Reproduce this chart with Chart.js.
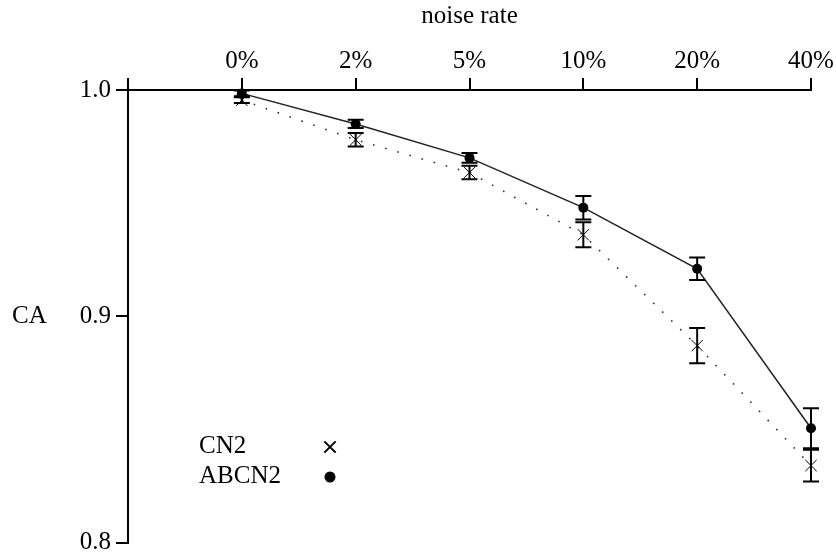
<!DOCTYPE html>
<html lang="en">
<head>
    <meta charset="UTF-8">
    <title>CA vs noise rate</title>
    <script src="https://cdn.jsdelivr.net/npm/chart.js"></script>
    <style>
        body {
            margin: 0;
            padding: 0;
            background: white;
        }

        #wrap {
            width: 836px;
            height: 560px;
        }
    </style>
</head>
<body>

    <div id="wrap"><canvas id="caChart"></canvas></div>

    <script>
        // Values
        const noiseRates = ["0%", "2%", "5%", "10%", "20%", "40%"];
        const cn2Mean = [0.9955, 0.978, 0.9635, 0.936, 0.887, 0.834];
        const cn2Err = [0.0013, 0.003, 0.003, 0.0055, 0.0078, 0.007];
        const abcn2Mean = [0.9985, 0.985, 0.970, 0.948, 0.921, 0.8505];
        const abcn2Err = [0.0013, 0.0018, 0.0022, 0.0052, 0.005, 0.0088];
        const yTicks = [0.8, 0.9, 1.0];

        const serif = "'Liberation Serif', 'DejaVu Serif', serif";
        const fontSize = 25;

        const toPoints = arr => arr.map((v, i) => ({ x: i, y: v }));

        // error bars, the y axis name and the small legend
        const extras = {
            id: "extras",
            afterDatasetsDraw(chart) {
                const ctx = chart.ctx;
                const xs = chart.scales.x;
                const ys = chart.scales.y;

                const bars = [[cn2Mean, cn2Err], [abcn2Mean, abcn2Err]];
                ctx.save();
                ctx.strokeStyle = "#000";
                ctx.lineWidth = 2;
                bars.forEach(([mean, err]) => {
                    mean.forEach((m, i) => {
                        const px = xs.getPixelForValue(i);
                        const top = ys.getPixelForValue(m + err[i]);
                        const bot = ys.getPixelForValue(m - err[i]);
                        ctx.beginPath();
                        ctx.moveTo(px, top);
                        ctx.lineTo(px, bot);
                        ctx.moveTo(px - 8, top);
                        ctx.lineTo(px + 8, top);
                        ctx.moveTo(px - 8, bot);
                        ctx.lineTo(px + 8, bot);
                        ctx.stroke();
                    });
                });

                // y axis name, horizontal
                ctx.fillStyle = "#000";
                ctx.font = fontSize + "px " + serif;
                ctx.textAlign = "left";
                ctx.textBaseline = "middle";
                ctx.fillText("CA", 12, (chart.chartArea.top + chart.chartArea.bottom) / 2);

                // legend
                ctx.fillText("CN2", 199, 446);
                ctx.fillText("ABCN2", 199, 476);
                Chart.helpers.drawPoint(ctx, { pointStyle: "crossRot", radius: 8, borderWidth: 1 }, 330, 447);
                ctx.fillStyle = "#000";
                Chart.helpers.drawPoint(ctx, { pointStyle: "circle", radius: 4.5, borderWidth: 1 }, 330, 477);
                ctx.restore();
            }
        };

        new Chart(document.getElementById("caChart"), {
            type: "line",
            data: {
                datasets: [
                    {
                        label: "CN2",
                        data: toPoints(cn2Mean),
                        borderColor: "#333",
                        borderWidth: 1.6,
                        borderDash: [1.6, 11],
                        pointStyle: "crossRot",
                        pointRadius: 8,
                        pointBorderWidth: 1,
                        pointBorderColor: "#000",
                        pointBackgroundColor: "#000",
                        clip: false
                    },
                    {
                        label: "ABCN2",
                        data: toPoints(abcn2Mean),
                        borderColor: "#222",
                        borderWidth: 1.5,
                        pointStyle: "circle",
                        pointRadius: 5,
                        pointBorderWidth: 0,
                        pointBackgroundColor: "#000",
                        clip: false
                    }
                ]
            },
            options: {
                responsive: true,
                maintainAspectRatio: false,
                animation: false,
                layout: {
                    padding: { left: 0, top: 0, right: 25, bottom: 14 }
                },
                plugins: {
                    legend: { display: false },
                    tooltip: { enabled: false }
                },
                scales: {
                    x: {
                        type: "linear",
                        position: "top",
                        min: -1,
                        max: 5,
                        afterFit(scale) { scale.height = 90; },
                        afterBuildTicks(scale) {
                            scale.ticks = [-1, 0, 1, 2, 3, 4, 5].map(v => ({ value: v }));
                        },
                        ticks: {
                            color: "#000",
                            font: { family: serif, size: fontSize },
                            padding: 2,
                            maxRotation: 0,
                            callback: v => (v >= 0 ? noiseRates[v] : "")
                        },
                        grid: {
                            drawOnChartArea: false,
                            color: "#000",
                            lineWidth: 2,
                            tickLength: 12
                        },
                        border: { color: "#000", width: 2 },
                        title: {
                            display: true,
                            text: "noise rate",
                            color: "#000",
                            font: { family: serif, size: fontSize },
                            padding: { top: 1, bottom: 0 }
                        }
                    },
                    y: {
                        min: 0.8,
                        max: 1.0,
                        afterFit(scale) { scale.width = 128; },
                        afterBuildTicks(scale) {
                            scale.ticks = yTicks.map(v => ({ value: v }));
                        },
                        ticks: {
                            color: "#000",
                            font: { family: serif, size: fontSize, lineHeight: 1 },
                            padding: 5,
                            callback: v => v.toFixed(1)
                        },
                        grid: {
                            drawOnChartArea: false,
                            color: "#000",
                            lineWidth: 2,
                            tickLength: 12
                        },
                        border: { color: "#000", width: 2 }
                    }
                }
            },
            plugins: [extras]
        });
    </script>

</body>
</html>
